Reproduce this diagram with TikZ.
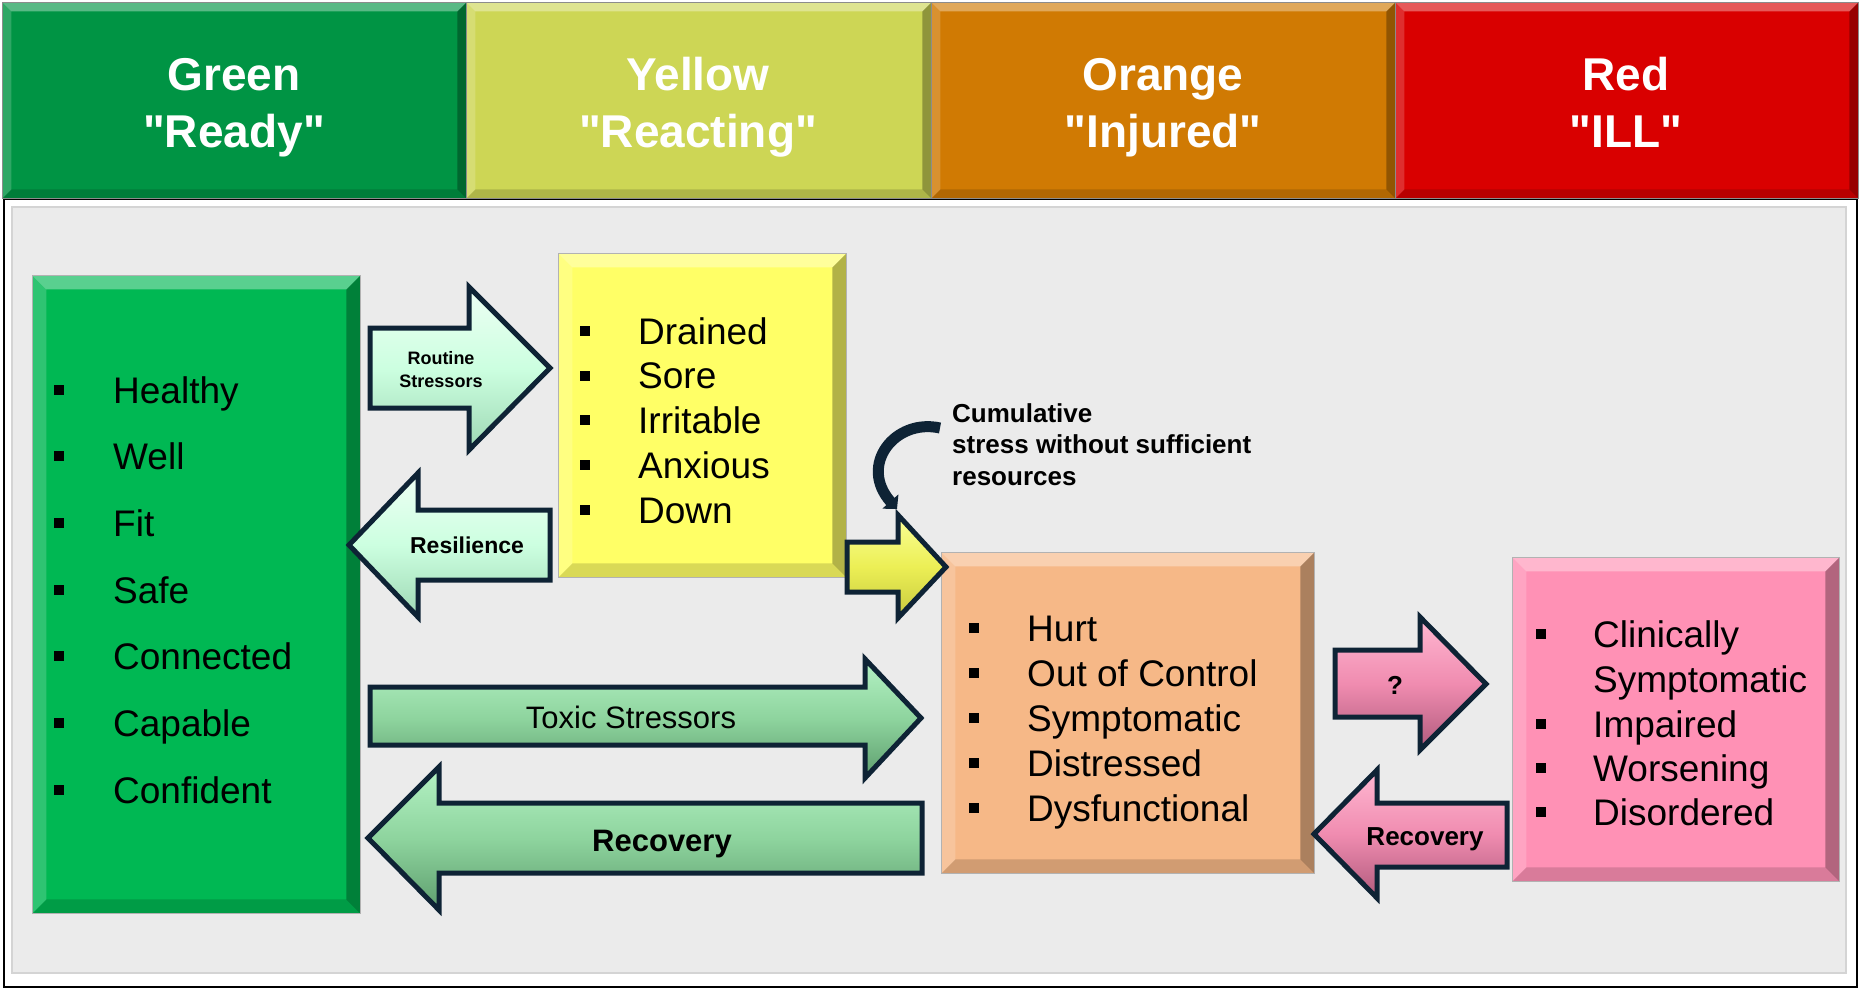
\documentclass[tikz,border=0pt]{standalone}
\usepackage{fontspec}
\setmainfont{Liberation Sans}[Ligatures=TeXOff]
\usetikzlibrary{arrows.meta}
\definecolor{navy}{HTML}{0E2335}
\definecolor{hgreen}{HTML}{009444}
\definecolor{hyellow}{HTML}{CDD655}
\definecolor{horange}{HTML}{D07A03}
\definecolor{hred}{HTML}{D90000}
\definecolor{bgreen}{HTML}{00B853}
\definecolor{byellow}{HTML}{FFFF66}
\definecolor{borange}{HTML}{F6B887}
\definecolor{bpink}{HTML}{FF91B5}
\definecolor{panel}{HTML}{EBEBEB}
\definecolor{panelline}{HTML}{D4D4D4}
\tikzset{bevel/.style={path picture={
  \path (path picture bounding box.north west) coordinate (pNW)
        (path picture bounding box.north east) coordinate (pNE)
        (path picture bounding box.south west) coordinate (pSW)
        (path picture bounding box.south east) coordinate (pSE);
  \fill[white,opacity=.35] (pNW) -- (pNE) -- ([shift={(-#1,-#1)}]pNE) -- ([shift={(#1,-#1)}]pNW) -- cycle;
  \fill[white,opacity=.18] (pNW) -- ([shift={(#1,-#1)}]pNW) -- ([shift={(#1,#1)}]pSW) -- (pSW) -- cycle;
  \fill[black,opacity=.30] (pNE) -- (pSE) -- ([shift={(-#1,#1)}]pSE) -- ([shift={(-#1,-#1)}]pNE) -- cycle;
  \fill[black,opacity=.15] (pSW) -- (pSE) -- ([shift={(-#1,#1)}]pSE) -- ([shift={(#1,#1)}]pSW) -- cycle;
}}}
\begin{document}
\begin{tikzpicture}[x=1pt,y=-1pt,
  hdr/.style={anchor=north west, inner sep=0pt, bevel=9pt, draw=black!45, line width=0.8pt},
  htxt/.style={anchor=base, text=white, font=\fontsize{46pt}{55pt}\selectfont\bfseries, inner sep=0pt},
  box/.style={anchor=north west, inner sep=0pt, bevel=14pt, draw=black!30, line width=0.8pt},
  bul/.style={anchor=south west, fill=black, inner sep=0pt, minimum width=10pt, minimum height=10pt},
  item/.style={anchor=base west, inner sep=0pt, font=\fontsize{37pt}{44pt}\selectfont},
  blk/.style={draw=navy, line width=5pt, line join=miter, miter limit=10},
  albl/.style={anchor=base, inner sep=0pt, font=\bfseries\fontsize{#1}{#1}\selectfont},
  mint/.style={top color=mintT, bottom color=mintB, middle color=mintM},
]
\definecolor{mintT}{HTML}{EEFFF4}\definecolor{mintM}{HTML}{CCFFE0}\definecolor{mintB}{HTML}{9ED8B4}
\definecolor{yelT}{HTML}{FAFF98}\definecolor{yelM}{HTML}{ECEF55}\definecolor{yelB}{HTML}{C8CA3E}
\definecolor{grT}{HTML}{B4F2C4}\definecolor{grM}{HTML}{8ED49E}\definecolor{grB}{HTML}{5E9E6E}
\definecolor{pkT}{HTML}{FFB8D2}\definecolor{pkM}{HTML}{F08CB0}\definecolor{pkB}{HTML}{B05A7C}
\useasboundingbox (0,0) rectangle (1860,990);
\fill[white] (0,0) rectangle (1860,990);

% panel
\draw[black, line width=2.5pt, fill=white] (4,199) rectangle (1857,987);
\draw[panelline, fill=panel, line width=1.5pt] (12,207) rectangle (1846,973);

% header
\node[hdr, fill=hgreen, minimum width=464pt, minimum height=196pt] (hg) at (2,2) {};
\node[hdr, fill=hyellow, minimum width=465pt, minimum height=196pt] (hy) at (466,2) {};
\node[hdr, fill=horange, minimum width=464pt, minimum height=196pt] (ho) at (931,2) {};
\node[hdr, fill=hred, minimum width=463pt, minimum height=196pt] (hr) at (1395,2) {};
\node[htxt] (hg1) at (234,90) {Green};
\node[htxt] (hg2) at (234,147) {"Ready"};
\node[htxt] (hy1) at (698,90) {Yellow};
\node[htxt] (hy2) at (698,147) {"Reacting"};
\node[htxt] (ho1) at (1163,90) {Orange};
\node[htxt] (ho2) at (1163,147) {"Injured"};
\node[htxt] (hr1) at (1626,90) {Red};
\node[htxt] (hr2) at (1626,147) {"ILL"};

% boxes
\node[box, fill=bgreen, minimum width=328pt, minimum height=638pt] (gbox) at (32,275) {};
\node[box, fill=byellow, minimum width=288pt, minimum height=324pt] (ybox) at (558,253) {};
\node[box, fill=borange, minimum width=373pt, minimum height=321pt] (obox) at (941,552) {};
\node[box, fill=bpink, minimum width=327pt, minimum height=324pt] (pbox) at (1512,557) {};

% lists
\foreach \t [count=\i] in {Healthy,Well,Fit,Safe,Connected,Capable,Confident}{
  \pgfmathsetmacro\yb{403+(\i-1)*66.67}
  \node[bul] (gb\i) at (54,\yb-8) {};
  \node[item] (gt\i) at (113,\yb) {\t};
}
\foreach \t [count=\i] in {Drained,Sore,Irritable,Anxious,Down}{
  \pgfmathsetmacro\yb{344+(\i-1)*44.8}
  \node[bul] (yb\i) at (580,\yb-8) {};
  \node[item] (yt\i) at (638,\yb) {\t};
}
\foreach \t [count=\i] in {Hurt,Out of Control,Symptomatic,Distressed,Dysfunctional}{
  \pgfmathsetmacro\yb{641+(\i-1)*45}
  \node[bul] (ob\i) at (969,\yb-8) {};
  \node[item] (ot\i) at (1027,\yb) {\t};
}
\node[bul] (pb1) at (1536,647-8) {};
\node[item] (pt1) at (1593,647) {Clinically};
\node[item] (pt1b) at (1593,692) {Symptomatic};
\node[bul] (pb2) at (1536,737-8) {};
\node[item] (pt2) at (1593,737) {Impaired};
\node[bul] (pb3) at (1536,781-8) {};
\node[item] (pt3) at (1593,781) {Worsening};
\node[bul] (pb4) at (1536,825-8) {};
\node[item] (pt4) at (1593,825) {Disordered};

% block arrows
\draw[blk, mint] (370,328) -- (469,328) -- (469,287) -- (550,368) -- (469,450) -- (469,408) -- (370,408) -- cycle;
\node[albl=18pt] (rs1) at (441,364) {Routine};
\node[albl=18pt] (rs2) at (441,387) {Stressors};

\draw[blk, mint] (550,510) -- (418,510) -- (418,473) -- (349,545) -- (418,617) -- (418,580) -- (550,580) -- cycle;
\node[albl=23pt] (res) at (467,553) {Resilience};

\draw[blk, top color=yelT, bottom color=yelB, middle color=yelM] (847,542) -- (898,542) -- (898,515) -- (946,567) -- (898,618) -- (898,592) -- (847,592) -- cycle;

\draw[blk, top color=grT, bottom color=grB, middle color=grM] (370,687) -- (865,687) -- (865,659) -- (921,718) -- (865,778) -- (865,745) -- (370,745) -- cycle;
\node[anchor=base, inner sep=0pt, font=\fontsize{31pt}{31pt}\selectfont] (tox) at (631,728) {Toxic Stressors};

\draw[blk, top color=grT, bottom color=grB, middle color=grM] (922,803) -- (439,803) -- (439,767) -- (368,838) -- (439,910) -- (439,873) -- (922,873) -- cycle;
\node[albl=31pt] (recg) at (662,851) {Recovery};

\draw[blk, top color=pkT, bottom color=pkB, middle color=pkM] (1335,650) -- (1420,650) -- (1420,617) -- (1486,684) -- (1420,750) -- (1420,717) -- (1335,717) -- cycle;
\node[albl=26pt] (q) at (1395,694) {?};

\draw[blk, top color=pkT, bottom color=pkB, middle color=pkM] (1507,803) -- (1377,803) -- (1377,770) -- (1314,834) -- (1377,898) -- (1377,867) -- (1507,867) -- cycle;
\node[albl=26pt] (recp) at (1425,845) {Recovery};

% cumulative note
\node[anchor=base west, inner sep=0pt, font=\bfseries\fontsize{26pt}{32pt}\selectfont] (c1) at (952,422) {Cumulative};
\node[anchor=base west, inner sep=0pt, font=\bfseries\fontsize{26pt}{32pt}\selectfont] (c2) at (952,453) {stress without sufficient};
\node[anchor=base west, inner sep=0pt, font=\bfseries\fontsize{26pt}{32pt}\selectfont] (c3) at (952,485) {resources};
\coordinate (cs) at (940,428);
\coordinate (ce) at (897,509);
\draw[navy, line width=11pt, -{Triangle[length=10pt,width=21pt]}] (cs) .. controls (895,418) and (858,465) .. (ce);
\end{tikzpicture}
\end{document}
